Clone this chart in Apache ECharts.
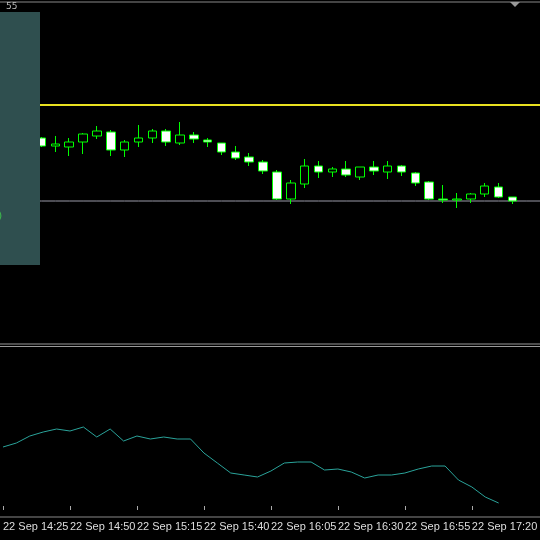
<!DOCTYPE html>
<html><head><meta charset="utf-8">
<script src="https://cdn.jsdelivr.net/npm/echarts@6/dist/echarts.min.js"></script>
<style>html,body{margin:0;padding:0;background:#000}#c{width:540px;height:540px}</style>
</head><body><div id="c"></div>
<script>
var times = ["14:25","14:30","14:35","14:40","14:45","14:50","14:55","15:00","15:05","15:10","15:15","15:20","15:25","15:30","15:35","15:40","15:45","15:50","15:55","16:00","16:05","16:10","16:15","16:20","16:25","16:30","16:35","16:40","16:45","16:50","16:55","17:00","17:05","17:10","17:15","17:20","17:25","17:30","17:35","17:40"];
var categories = times.map(function(t){return "22 Sep " + t;});
// [open, close, low, high]
var candles = ['-','-','-',
[1.16962,1.16954,1.16953,1.16963],[1.16954,1.16956,1.16948,1.16964],[1.16953,1.16958,1.16944,1.16962],
[1.16958,1.16966,1.16946,1.16967],[1.16964,1.16969,1.16961,1.16974],[1.16968,1.16950,1.16944,1.16970],
[1.16950,1.16958,1.16943,1.16960],[1.16958,1.16962,1.16953,1.16975],[1.16962,1.16969,1.16957,1.16971],
[1.16969,1.16958,1.16954,1.16971],[1.16957,1.16965,1.16955,1.16978],[1.16965,1.16961,1.16957,1.16968],
[1.16960,1.16958,1.16953,1.16962],[1.16957,1.16948,1.16945,1.16957],[1.16948,1.16942,1.16940,1.16954],
[1.16943,1.16938,1.16934,1.16947],[1.16938,1.16929,1.16926,1.16940],[1.16928,1.16901,1.16900,1.16930],
[1.16901,1.16917,1.16896,1.16920],[1.16916,1.16934,1.16912,1.16941],[1.16934,1.16928,1.16922,1.16939],
[1.16928,1.16931,1.16923,1.16933],[1.16931,1.16925,1.16923,1.16939],[1.16923,1.16933,1.16920,1.16933],
[1.16933,1.16929,1.16925,1.16939],[1.16928,1.16934,1.16921,1.16939],[1.16934,1.16928,1.16924,1.16935],
[1.16927,1.16917,1.16914,1.16928],[1.16918,1.16901,1.16900,1.16919],[1.16901,1.16900,1.16897,1.16915],
[1.16900,1.16901,1.16892,1.16907],[1.16901,1.16906,1.16897,1.16907],[1.16906,1.16914,1.16903,1.16917],
[1.16913,1.16903,1.16902,1.16917],[1.16903,1.16899,1.16896,1.16903],'-','-'];
var indicator = [63,67,74,78,81,79,83,73,81,69,74,71,73,71,71,57,47,37,35,33,39,47,48,48,40,41,38,32,35,35,37,41,44,44,30,23,13,7];
var yellowLevel = 1.16995;
var greyLevel = 1.16899;

var chart = echarts.init(document.getElementById('c'));
var xBase = {type:'category', data:categories, boundaryGap:false,
  axisLine:{show:false}, axisTick:{show:false}, axisLabel:{show:false}, splitLine:{show:false}};
chart.setOption({
  backgroundColor:'#000',
  animation:false,
  grid:[{left:0, width:540, top:3, height:338},{left:0, width:526.5, top:347, height:170}],
  xAxis:[Object.assign({gridIndex:0}, xBase),
    Object.assign({}, xBase, {gridIndex:1,
      axisTick:{show:true, interval:4, inside:true, length:4, lineStyle:{color:'#aaa'}},
      axisLabel:{show:true, interval:4, align:'left', color:'#ddd', fontSize:11, fontFamily:'Liberation Sans', margin:4}})],
  yAxis:[{gridIndex:0, type:'value', min:1.16759, max:1.17097, scale:true, show:false, splitLine:{show:false}, axisLine:{show:false}},
         {gridIndex:1, type:'value', min:-7, max:163, show:false, splitLine:{show:false}}],
  series:[
    {type:'line', xAxisIndex:0, yAxisIndex:0, data:categories.map(function(){return yellowLevel;}), symbol:'none',
     lineStyle:{color:'#e8e020', width:2}},
    {type:'line', xAxisIndex:0, yAxisIndex:0, data:categories.map(function(){return greyLevel;}), symbol:'none',
     lineStyle:{color:'#9a9aa8', width:1}},
    {type:'candlestick', xAxisIndex:0, yAxisIndex:0, data:candles, barWidth:9, z:5,
     itemStyle:{color:'#000', color0:'#fff', borderColor:'#00ff00', borderColor0:'#00ff00', borderWidth:1}},
    {type:'line', xAxisIndex:1, yAxisIndex:1, data:indicator, symbol:'none',
     lineStyle:{color:'#2aa39a', width:1}}
  ],
  graphic:[
    {type:'line', shape:{x1:0,y1:2,x2:540,y2:2}, style:{stroke:'#888', lineWidth:1}},
    {type:'line', shape:{x1:0,y1:344,x2:540,y2:344}, style:{stroke:'#999', lineWidth:1}},
    {type:'line', shape:{x1:0,y1:346.5,x2:540,y2:346.5}, style:{stroke:'#999', lineWidth:1}},
    {type:'line', shape:{x1:0,y1:517,x2:540,y2:517}, style:{stroke:'#888', lineWidth:1}},
    {type:'rect', shape:{x:0,y:12,width:40,height:253}, style:{fill:'#2f4f4f'}, z:100},
    {type:'text', left:6, top:2, style:{text:'55', fill:'#bbb', fontSize:9, fontFamily:'DejaVu Sans'}, z:101},
    {type:'text', left:-2, top:211, style:{text:')', fill:'#3cb84c', fontSize:11, fontFamily:'DejaVu Sans'}, z:101},
    {type:'polygon', shape:{points:[[510,2],[520,2],[515,7]]}, style:{fill:'#999'}, z:101}
  ]
});
</script></body></html>
